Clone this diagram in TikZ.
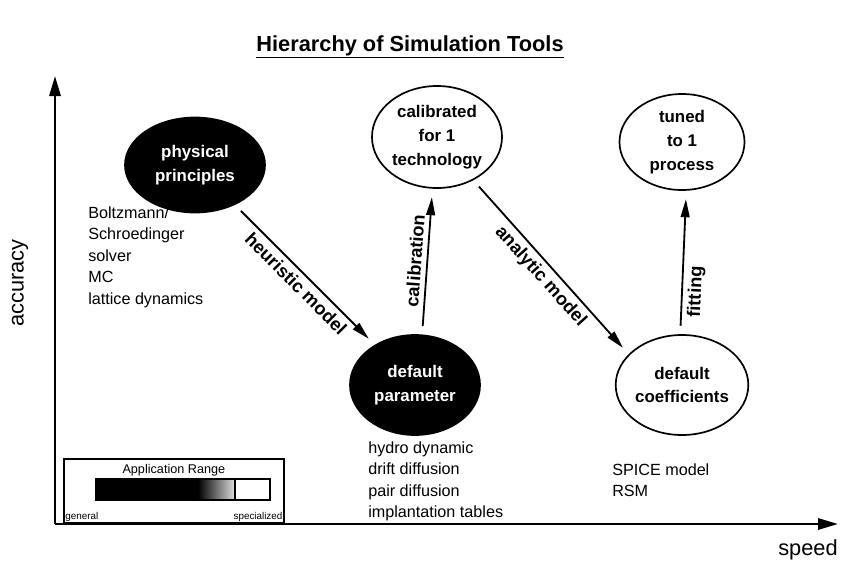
\documentclass[tikz,border=0pt]{standalone}
\usepackage{fontspec}
\setmainfont{Liberation Sans}
\usetikzlibrary{shapes.geometric, arrows.meta, positioning}
\tikzset{
  darkell/.style={ellipse, draw=black, fill=black, text=white, inner sep=0pt,
    align=center, font=\fontsize{12}{17}\selectfont\bfseries, line width=1.2pt},
  lightell/.style={ellipse, draw=black, fill=white, inner sep=0pt,
    align=center, font=\fontsize{12}{17}\selectfont\bfseries, line width=1.2pt},
  toollist/.style={anchor=north west, align=left, inner sep=0pt,
    font=\fontsize{11.5}{15.3}\selectfont},
  arrow/.style={-{Triangle[length=0.45cm,width=0.22cm]}, line width=1.3pt,
    shorten <=6pt, shorten >=6pt},
  axis/.style={-{Triangle[length=0.5cm,width=0.28cm]}, line width=1.8pt},
  arrlabel/.style={sloped, font=\fontsize{13}{15}\selectfont\bfseries},
  axlabel/.style={font=\fontsize{15.5}{18}\selectfont}
}

\begin{document}
\begin{tikzpicture}[x=0.025cm, y=-0.025cm]
  \useasboundingbox (0,0) rectangle (849,561);

  \node[font=\fontsize{15.5}{18}\selectfont\bfseries] (title) at (410,47)
    {\underline{Hierarchy of Simulation Tools}};

  % axes
  \coordinate (origin) at (55,524);
  \coordinate (ytip) at (55,76);
  \coordinate (xtip) at (838,524);
  \draw[axis] (origin) -- (ytip);
  \draw[axis] (origin) -- (xtip);
  \node[axlabel, rotate=90] (acc) at (20,283) {accuracy};
  \node[axlabel] (spd) at (808,550) {speed};

  % tools
  \node[darkell, minimum width=3.5cm, minimum height=2.375cm] (phys) at (195,165)
    {physical\\principles};
  \node[lightell, minimum width=3.25cm, minimum height=2.55cm] (calib) at (437,137)
    {calibrated\\for 1\\technology};
  \node[lightell, minimum width=3.125cm, minimum height=2.4cm] (tuned) at (682,142)
    {tuned\\to 1\\process};
  \node[darkell, minimum width=3.25cm, minimum height=2.5cm] (defpar) at (415,385)
    {default\\parameter};
  \node[lightell, minimum width=3.25cm, minimum height=2.5cm] (defcoef) at (682,385)
    {default\\coefficients};

  \node[toollist] (physlist) at (88,206)
    {Boltzmann/\\Schroedinger\\solver\\MC\\lattice dynamics};
  \node[toollist] (parlist) at (368,441)
    {hydro dynamic\\drift diffusion\\pair diffusion\\implantation tables};
  \node[toollist] (coeflist) at (612,463) {SPICE model\\RSM};

  % transitions
  \draw[arrow] (phys.-45) -- (defpar.135)
    node[arrlabel, midway, below] {heuristic model};
  \draw[arrow] (defpar.82) -- (calib.265)
    node[arrlabel, midway, above] {calibration};
  \draw[arrow] (calib.-50) -- (defcoef.150)
    node[arrlabel, midway, below] {analytic model};
  \draw[arrow] (defcoef.92) -- (tuned.275)
    node[arrlabel, pos=0.3, below] {fitting};

  % application range
  \node[draw, line width=1.2pt, minimum width=5.5cm, minimum height=1.6cm,
    anchor=north west, inner sep=0pt] (legend) at (63,458) {};
  \node[font=\fontsize{9}{10}\selectfont, below=1pt of legend.north] (apprange)
    {Application Range};
  \fill[black] (96,479) rectangle (198,500);
  \shade[left color=black, right color=gray!25] (198,479) rectangle (235,500);
  \draw[line width=0.8pt] (96,479) rectangle (270,500);
  \draw[line width=0.8pt] (235,479) -- (235,500);
  \node[font=\fontsize{7}{8}\selectfont, anchor=south west, inner sep=1.5pt]
    (gen) at (legend.south west) {general};
  \node[font=\fontsize{7}{8}\selectfont, anchor=south east, inner sep=1.5pt]
    (spec) at (legend.south east) {specialized};
\end{tikzpicture}
\end{document}
